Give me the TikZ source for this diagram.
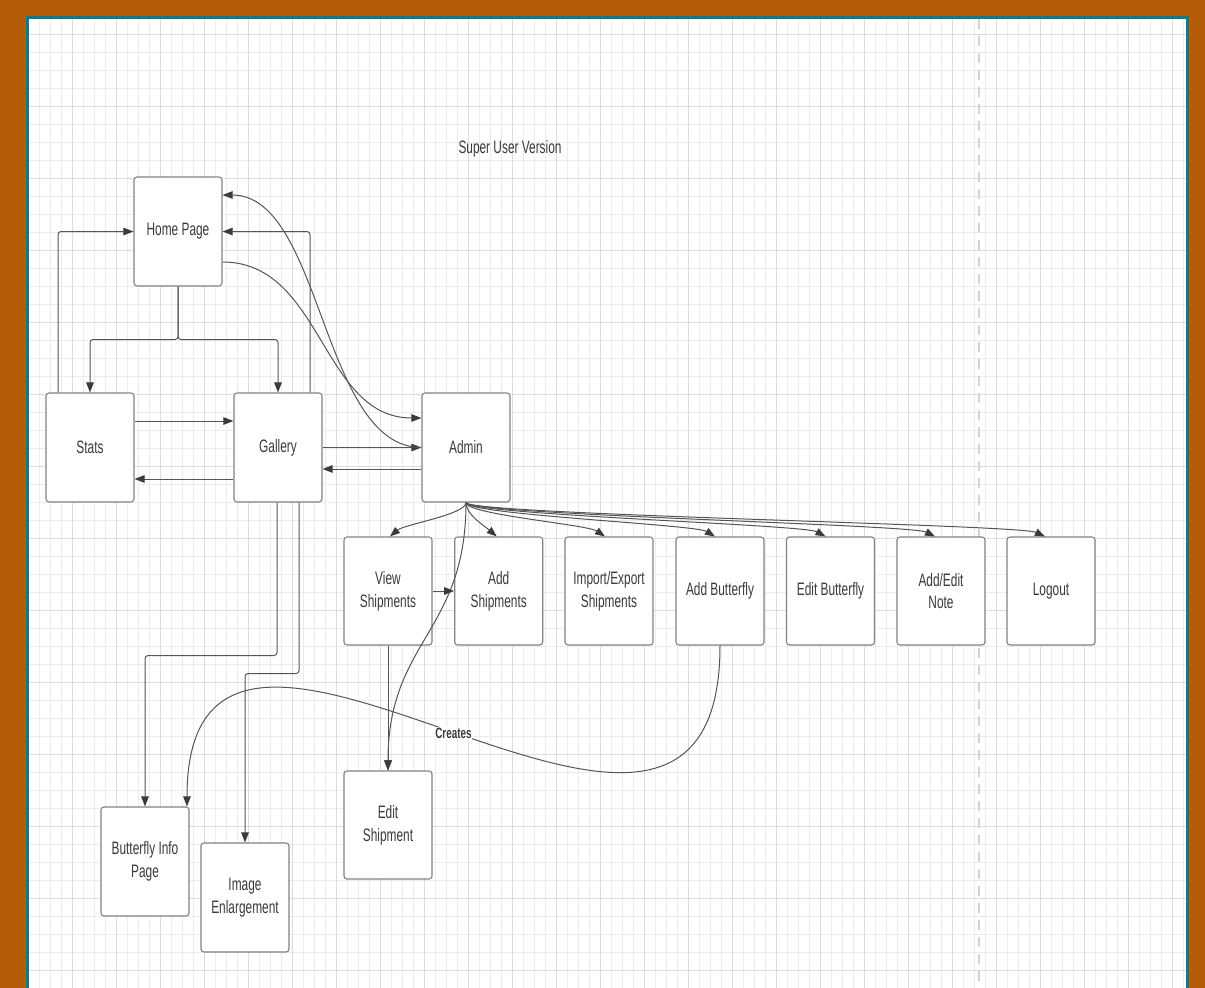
\documentclass[tikz,border=0pt]{standalone}
\usepackage{fontspec}
\setmainfont{Liberation Sans}[FakeStretch=0.66]
\usetikzlibrary{arrows.meta,calc}
\definecolor{frameorange}{RGB}{180,92,8}
\definecolor{frameteal}{RGB}{16,122,140}
\definecolor{gridminor}{RGB}{236,236,236}
\definecolor{gridmajor}{RGB}{220,220,220}
\definecolor{dashc}{RGB}{212,212,212}
\definecolor{boxc}{RGB}{130,130,130}
\definecolor{linec}{RGB}{85,85,85}
\definecolor{tipc}{RGB}{55,60,68}
\definecolor{txtc}{RGB}{58,58,58}
\tikzset{
  pagebox/.style={draw=boxc, line width=1.1pt, fill=white, rounded corners=3pt,
    minimum width=88pt, minimum height=109pt, inner sep=0pt, align=center,
    text=txtc, font=\fontsize{18}{22.7}\selectfont},
  rowbox/.style={pagebox, minimum height=108pt},
  conn/.style={draw=linec, line width=1pt, rounded corners=3pt,
    -{Triangle[length=10pt,width=7.5pt,color=tipc]}},
  labeltext/.style={fill=white, inner sep=1pt, text=txtc,
    font=\bfseries\fontsize{15}{15}\selectfont},
  titletext/.style={text=txtc, font=\fontsize{18}{22.7}\selectfont}
}
\begin{document}
\begin{tikzpicture}[x=1pt,y=-1pt]
\useasboundingbox (0,0) rectangle (1205,988);
% frame
\fill[frameorange] (0,0) rectangle (1205,988);
\fill[white] (29,19) rectangle (1186,988);
% grid
\foreach \i in {0,...,105} \draw[gridminor, line width=0.7pt] ({28.7+11*\i},19) -- ({28.7+11*\i},988);
\foreach \j in {1,...,54} \draw[gridminor, line width=0.7pt] (29,{16+18*\j}) -- (1186,{16+18*\j});
\foreach \i in {0,...,26} \draw[gridmajor, line width=0.8pt] ({28.7+44*\i},19) -- ({28.7+44*\i},988);
\foreach \j in {0,...,13} \draw[gridmajor, line width=0.8pt] (29,{34+72*\j}) -- (1186,{34+72*\j});
\draw[dashc, line width=1.6pt, dash pattern=on 10pt off 7pt] (979,19) -- (979,988);
\draw[frameteal, line width=3pt] (27.5,988) -- (27.5,17.5) -- (1187.5,17.5) -- (1187.5,988);

% title
\node[titletext] (title) at (510,149) {Super User Version};

% nodes
\node[pagebox] (home) at (178,231.5) {Home Page};
\node[pagebox] (stats) at (90,447.5) {Stats};
\node[pagebox] (gallery) at (278,447.5) {Gallery};
\node[pagebox] (admin) at (466,447.5) {Admin};
\node[rowbox] (vs) at (388,591) {View\\Shipments};
\node[rowbox] (as) at (498.7,591) {Add\\Shipments};
\node[rowbox] (ie) at (609,591) {Import/Export\\Shipments};
\node[rowbox] (ab) at (720,591) {Add Butterfly};
\node[rowbox] (eb) at (830.5,591) {Edit Butterfly};
\node[rowbox] (an) at (941,591) {Add/Edit\\Note};
\node[rowbox] (lo) at (1051,591) {Logout};
\node[rowbox] (es) at (388,825) {Edit\\Shipment};
\node[pagebox] (binfo) at (145,861.5) {Butterfly Info\\Page};
\node[pagebox] (img) at (245,897.5) {Image\\Enlargement};

% home <-> stats/gallery
\draw[conn] (home.south) -- ++(0,53) -| (stats.north);
\draw[conn] (home.south) -- ++(0,53) -| (gallery.north);
\draw[conn] ([xshift=-32pt]stats.north) |- (home.west);
\draw[conn] ([xshift=32pt]gallery.north) |- (home.east);
% stats <-> gallery
\draw[conn] ([yshift=26.5pt]stats.east) -- ([yshift=26.5pt]gallery.west);
\draw[conn] ([yshift=-31.5pt]gallery.west) -- ([yshift=-31.5pt]stats.east);
% gallery <-> admin
\draw[conn] (gallery.east) -- (admin.west);
\draw[conn] ([yshift=-21.5pt]admin.west) -- ([yshift=-21.5pt]gallery.east);
% home <-> admin curves
\draw[conn] (admin.west) .. controls +(-100,0) and +(100,0) .. ([yshift=36.5pt]home.east);
\draw[conn] ([yshift=-30.5pt]home.east) .. controls +(100,0) and +(-100,0) .. ([yshift=29.5pt]admin.west);
% admin fan-out
\foreach \n/\dx/\cx in {vs/2/14, as/-2/-14, ie/-4/-18, ab/-5/-20, eb/-5/-22, an/-6/-24, lo/-6/-26}
  \draw[conn] (admin.south) .. controls +(0,12) and +(\cx,-12) .. ([xshift=\dx pt]\n.north);
\draw[conn] (admin.south) .. controls +(0,130) and +(0,-130) .. (es.north);
% shipments
\draw[conn] (vs.east) -- (as.west);
\draw[conn] (vs.south) -- (es.north);
% gallery down
\draw[conn] ([xshift=-1pt]gallery.south) -- ++(0,153) -| (binfo.north);
\draw[conn] ([xshift=21pt]gallery.south) -- ++(0,171) -| (img.north);
% creates
\draw[conn] (ab.south) .. controls +(0,350) and +(0,-330) .. ([xshift=42pt]binfo.north)
  node[pos=0.5, labeltext] (creates) {Creates};
\end{tikzpicture}
\end{document}
